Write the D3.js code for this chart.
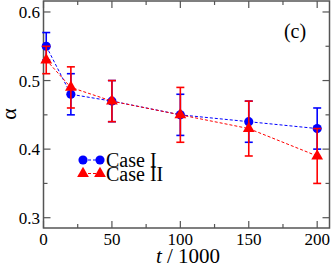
<!DOCTYPE html>
<html>
<head>
<meta charset="utf-8">
<script src="https://cdn.jsdelivr.net/npm/d3@7"></script>
<style>
  body { margin: 0; background: #fff; }
  text { font-family: "Liberation Serif", "Times New Roman", serif; fill: #000; }
</style>
</head>
<body>
<svg id="chart"></svg>
<script>
// values
const times = [2, 20, 50, 100, 150, 200];
const caseI = [0.55, 0.48, 0.47, 0.45, 0.44, 0.43];
const caseIErr = [0.02, 0.03, 0.03, 0.03, 0.03, 0.03];
const caseII = [0.53, 0.49, 0.47, 0.45, 0.43, 0.39];
const caseIIErr = [0.02, 0.03, 0.03, 0.04, 0.04, 0.04];
const xTicks = [0, 50, 100, 150, 200];
const yTicks = [0.3, 0.4, 0.5, 0.6];

const width = 332, height = 267;
const margin = { top: 1, right: 2.5, bottom: 39, left: 43.5 };

const svg = d3.select("#chart")
    .attr("width", width)
    .attr("height", height);

const x = d3.scaleLinear().domain([0, 209]).range([margin.left, width - margin.right]);
const y = d3.scaleLinear().domain([0.285, 0.616]).range([height - margin.bottom, margin.top]);

const frameColor = "#555";

// frame
svg.append("rect")
    .attr("x", x(0)).attr("y", y.range()[1])
    .attr("width", x.range()[1] - x(0))
    .attr("height", y.range()[0] - y.range()[1])
    .attr("fill", "none")
    .attr("stroke", frameColor)
    .attr("stroke-width", 1.5);

// ticks on all four sides, pointing inward
const xMinor = d3.range(25, 209, 50);
const yMinor = [0.35, 0.45, 0.55];

function tickLines(values, len, side) {
    values.forEach(v => {
        const line = svg.append("line").attr("stroke", frameColor).attr("stroke-width", 1.2);
        if (side === "bottom") line.attr("x1", x(v)).attr("x2", x(v)).attr("y1", y.range()[0]).attr("y2", y.range()[0] - len);
        if (side === "top") line.attr("x1", x(v)).attr("x2", x(v)).attr("y1", y.range()[1]).attr("y2", y.range()[1] + len);
        if (side === "left") line.attr("y1", y(v)).attr("y2", y(v)).attr("x1", x.range()[0]).attr("x2", x.range()[0] + len);
        if (side === "right") line.attr("y1", y(v)).attr("y2", y(v)).attr("x1", x.range()[1]).attr("x2", x.range()[1] - len);
    });
}
["bottom", "top"].forEach(s => { tickLines(xTicks, 7, s); tickLines(xMinor, 4, s); });
["left", "right"].forEach(s => { tickLines(yTicks, 7, s); tickLines(yMinor, 4, s); });

// tick labels
svg.selectAll(".xlab")
    .data(xTicks)
    .enter().append("text")
    .attr("x", d => x(d))
    .attr("y", 245)
    .attr("text-anchor", "middle")
    .style("font-size", "17px")
    .text(d => d);

svg.selectAll(".ylab")
    .data(yTicks)
    .enter().append("text")
    .attr("x", 40)
    .attr("y", d => y(d) + 6)
    .attr("text-anchor", "end")
    .style("font-size", "17px")
    .text(d => d.toFixed(1));

// axis titles
const xt = svg.append("text")
    .attr("x", 188)
    .attr("y", 263)
    .attr("text-anchor", "middle")
    .style("font-size", "21px");
xt.append("tspan").style("font-style", "italic").text("t");
xt.append("tspan").text(" / 1000");

svg.append("text")
    .attr("transform", "translate(16, 114) rotate(-90)")
    .attr("text-anchor", "middle")
    .style("font-size", "22px")
    .text("α");

svg.append("text")
    .attr("x", 295)
    .attr("y", 38)
    .attr("text-anchor", "middle")
    .style("font-size", "20px")
    .text("(c)");

// series
const series = [
    { name: "Case I", values: caseI, err: caseIErr, color: "#0000ff", shape: d3.symbolCircle, size: 66 },
    { name: "Case II", values: caseII, err: caseIIErr, color: "#ff0000", shape: d3.symbolTriangle, size: 60 }
];

const line = d3.line().x(d => x(d.t)).y(d => y(d.v));

series.forEach(s => {
    const pts = times.map((t, i) => ({ t: t, v: s.values[i], e: s.err[i] }));
    const g = svg.append("g");

    g.append("path")
        .datum(pts)
        .attr("d", line)
        .attr("fill", "none")
        .attr("stroke", s.color)
        .attr("stroke-width", 1)
        .attr("stroke-dasharray", "3,2");

    pts.forEach(p => {
        g.append("line")
            .attr("x1", x(p.t)).attr("x2", x(p.t))
            .attr("y1", y(p.v - p.e)).attr("y2", y(p.v + p.e))
            .attr("stroke", s.color).attr("stroke-width", 1.6);
        [p.v - p.e, p.v + p.e].forEach(c => {
            g.append("line")
                .attr("x1", x(p.t) - 4).attr("x2", x(p.t) + 4)
                .attr("y1", y(c)).attr("y2", y(c))
                .attr("stroke", s.color).attr("stroke-width", 1.6);
        });
    });

    g.selectAll("path.mark")
        .data(pts)
        .enter().append("path")
        .attr("class", "mark")
        .attr("transform", d => `translate(${x(d.t)}, ${y(d.v)})`)
        .attr("d", d3.symbol().type(s.shape).size(s.size))
        .attr("fill", s.color);
});

// legend
series.forEach((s, i) => {
    const ly = 160 + i * 13.5;
    svg.append("line")
        .attr("x1", 83).attr("x2", 100)
        .attr("y1", ly).attr("y2", ly)
        .attr("stroke", s.color)
        .attr("stroke-width", 1)
        .attr("stroke-dasharray", "3,2");
    [83, 100].forEach(lx => {
        svg.append("path")
            .attr("transform", `translate(${lx}, ${ly})`)
            .attr("d", d3.symbol().type(s.shape).size(s.size))
            .attr("fill", s.color);
    });
    svg.append("text")
        .attr("x", 106)
        .attr("y", ly + 7)
        .style("font-size", "20px")
        .text(s.name);
});
</script>
</body>
</html>
